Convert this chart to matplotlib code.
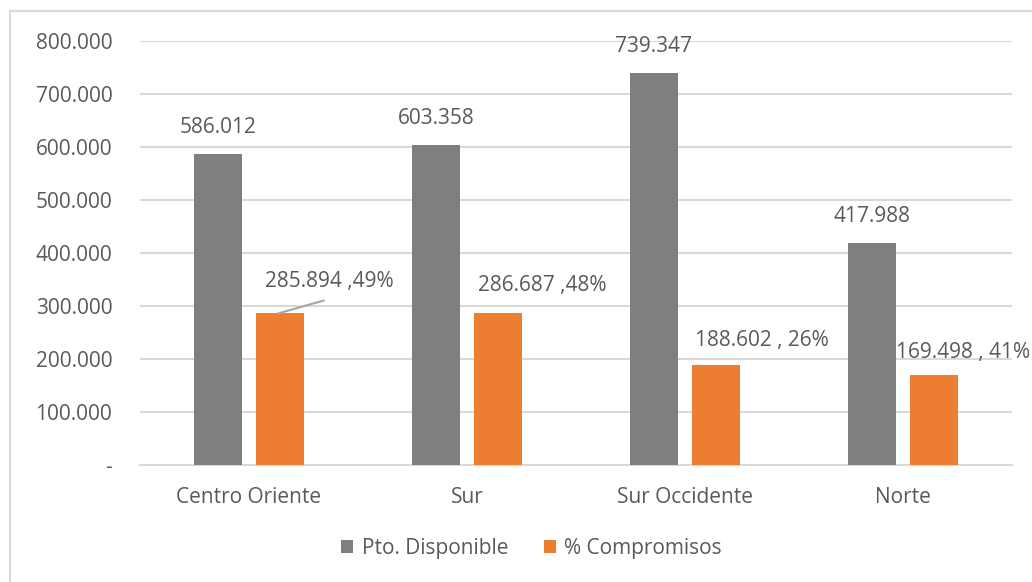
import numpy as np
import matplotlib.pyplot as plt
from matplotlib.patches import Rectangle

plt.rcParams['font.family'] = ['Open Sans', 'DejaVu Sans']

categories = ["Centro Oriente", "Sur", "Sur Occidente", "Norte"]
disponible = [586012, 603358, 739347, 417988]
compromisos = [285894, 286687, 188602, 169498]
pct_labels = ["49%", "48%", "26%", "41%"]
seps = [" ,", " ,", " , ", " , "]
yticks = [0, 100000, 200000, 300000, 400000, 500000, 600000, 700000, 800000]

grey = "#7f7f7f"
orange = "#ed7d31"
txt = "#595959"
fs = 15

fig = plt.figure(figsize=(10.32, 5.82), dpi=100)
ax = fig.add_axes([0.1357, 0.201, 0.845, 0.7286])

# chart border
fig.patches.append(Rectangle((10 / 1032, -0.01), 1.02, 1 - 11 / 582 + 0.01,
                             transform=fig.transFigure, fill=False,
                             edgecolor="#d9d9d9", linewidth=1.5))

x = np.arange(len(categories))
w = 0.22
off = 0.143
ax.bar(x - off, disponible, w, color=grey, label="Pto. Disponible", zorder=3)
ax.bar(x + off, compromisos, w, color=orange, label="% Compromisos", zorder=3)

ax.set_xlim(-0.5, len(categories) - 0.5)
ax.set_ylim(0, 800000)
ax.set_yticks(yticks)
ax.set_yticklabels(["-"] + [f"{v // 1000}.000" for v in yticks[1:]])
ax.set_xticks(x)
ax.set_xticklabels(categories)
ax.tick_params(axis="both", length=0, colors=txt, labelsize=fs)
ax.tick_params(axis="y", pad=20)
ax.tick_params(axis="x", pad=16)
ax.grid(axis="y", color="#d9d9d9", linewidth=1.5, zorder=0)
for s in ["top", "right", "left"]:
    ax.spines[s].set_visible(False)
ax.spines["bottom"].set_color("#d9d9d9")
ax.spines["bottom"].set_linewidth(1.5)

for i, v in enumerate(disponible):
    ax.annotate(f"{v / 1000:.3f}", (x[i] - off, v), xytext=(0, 19.5),
                textcoords="offset points", ha="center", va="center",
                fontsize=fs, color=txt)

# orange labels, offsets (in points)
lab_dx = [35, 32, 33, 21]
lab_dy = [23, 19.5, 18, 16.5]
for i, v in enumerate(compromisos):
    s = f"{v / 1000:.3f}{seps[i]}{pct_labels[i]}"
    ax.annotate(s, (x[i] + off, v), xytext=(lab_dx[i], lab_dy[i]),
                textcoords="offset points", ha="center", va="center",
                fontsize=fs, color=txt)

# leader line on first orange label
ax.annotate("", (x[0] + off - 0.01, compromisos[0]), xytext=(x[0] + off + 0.2, compromisos[0] + 24500),
            arrowprops=dict(arrowstyle="-", color="#a6a6a6", lw=1.5, shrinkA=0, shrinkB=0))

leg = fig.legend(loc="center", bbox_to_anchor=(0.515, 0.058), ncol=2, frameon=False,
                 fontsize=fs, handlelength=0.6, handleheight=0.6, columnspacing=1.7,
                 handletextpad=0.4)
for t in leg.get_texts():
    t.set_color(txt)

fig.savefig("out.png", dpi=100)
